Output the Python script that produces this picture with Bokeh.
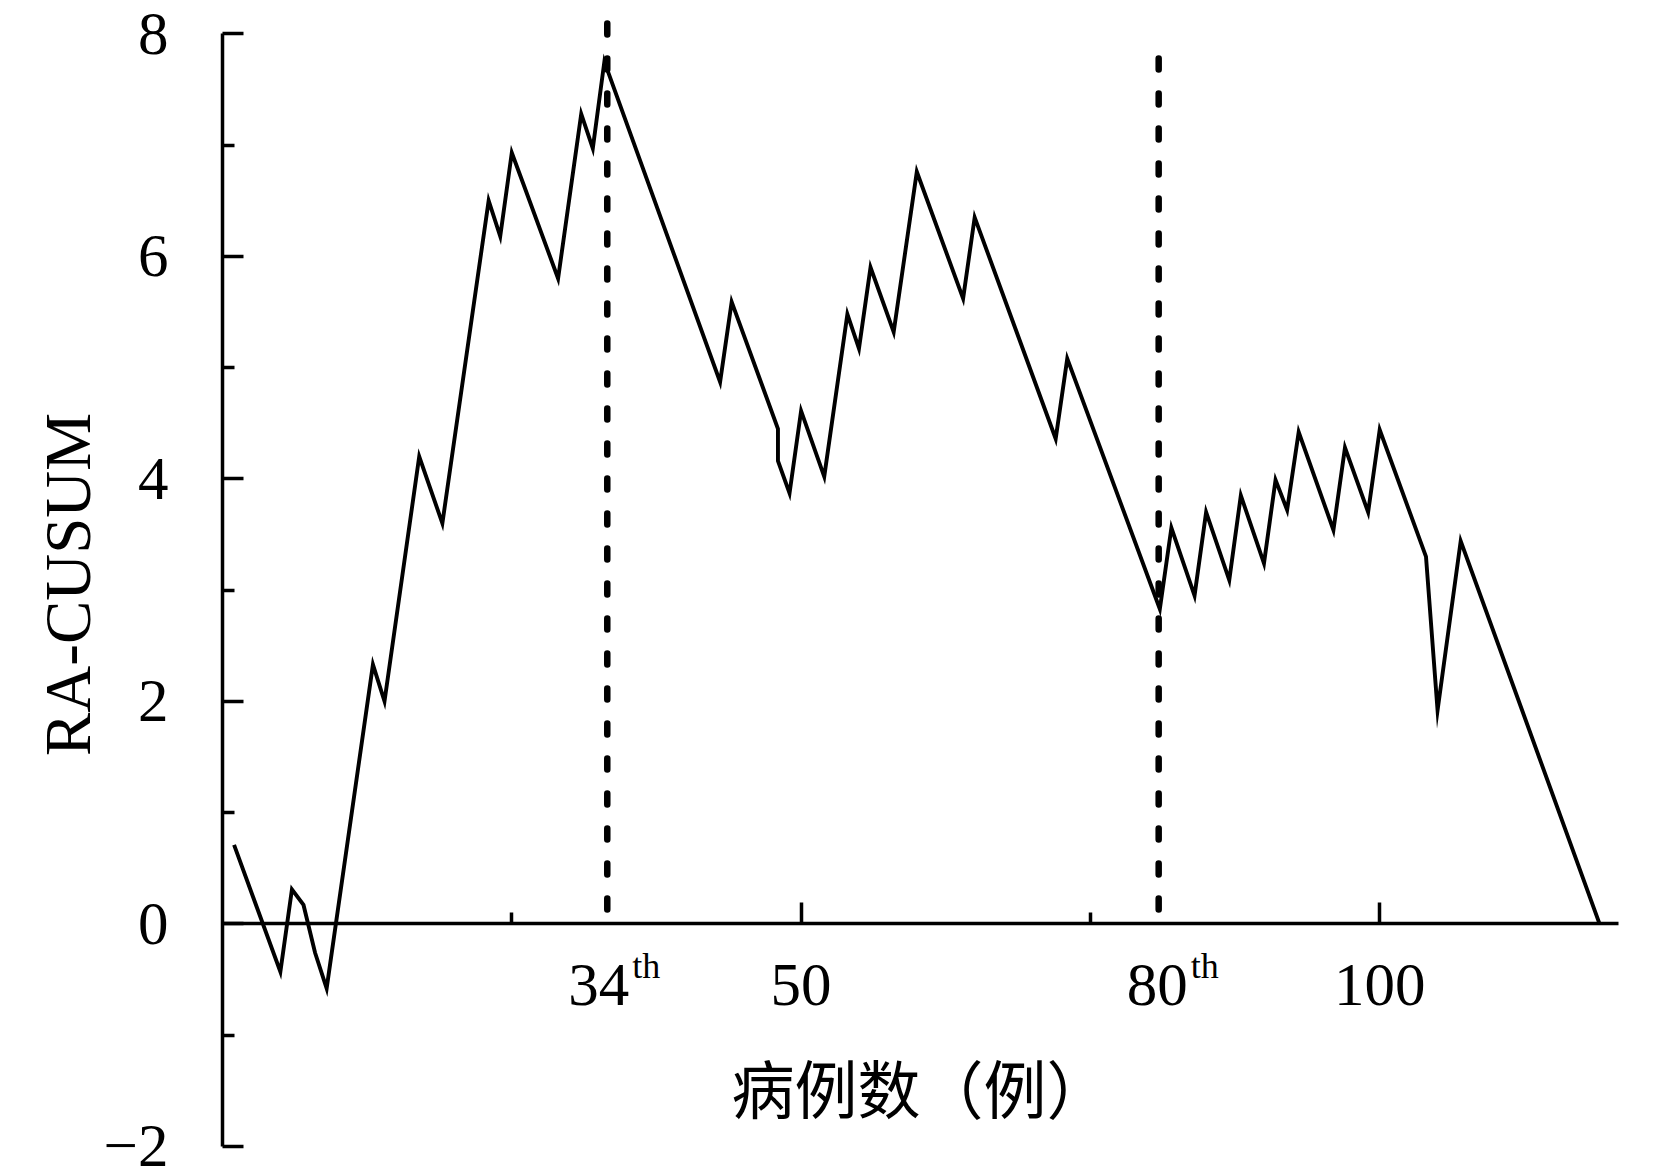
from bokeh.plotting import figure
from bokeh.models import Range1d, FixedTicker, ColumnDataSource
from bokeh.core.properties import value
from bokeh.embed import file_html
from bokeh.resources import INLINE

# ---- data ----
case_no = [1, 5, 6, 7, 8, 9, 13, 14, 17, 19, 23, 24, 25, 26, 29, 31, 32, 33,
           43, 44, 48, 48, 49, 50, 52, 54, 55, 56, 58, 60, 64, 65, 72, 73,
           81, 82, 84, 85, 87, 88, 90, 91, 92, 93, 96, 97, 99, 100, 104, 105,
           107, 119]
ra_cusum = [0.71, -0.43, 0.31, 0.17, -0.26, -0.58, 2.33, 2.00, 4.20, 3.60,
            6.50, 6.18, 6.93, 6.65, 5.80, 7.28, 6.97, 7.75,
            4.87, 5.59, 4.45, 4.16, 3.87, 4.61, 4.02, 5.48, 5.17, 5.90, 5.32,
            6.76, 5.62, 6.35, 4.36, 5.08,
            2.83, 3.56, 2.95, 3.70, 3.09, 3.85, 3.24, 3.99, 3.72, 4.42, 3.54,
            4.28, 3.70, 4.44, 3.30, 1.92, 3.44, 0.00]

cut_case = [33.25, 80.9]     # dashed reference lines
cut_top = [8.13, 7.90]
cut_bottom = [0.13, 0.13]
cut_num = ["34", "80"]
cut_sup = ["th", "th"]

x_major_ticks = [50, 100]
x_minor_ticks = [25, 75]
y_major_ticks = [-2, 0, 2, 4, 6, 8]
y_minor_ticks = [-1, 1, 3, 5, 7]

x_label = "病例数（例）"
y_label = "RA-CUSUM"

SERIF = "Liberation Serif"

p = figure(width=1654, height=1171,
           x_range=Range1d(0, 121.5), y_range=Range1d(-2.1, 8.2),
           output_backend="svg", toolbar_location=None,
           min_border_left=222, min_border_right=26,
           min_border_top=11, min_border_bottom=14)
p.outline_line_color = None
p.grid.visible = False
p.background_fill_color = "white"
p.border_fill_color = "white"

# curve
p.line(case_no, ra_cusum, line_color="black", line_width=3.9, line_join="miter")

# dashed markers
cut_src = ColumnDataSource(dict(x=cut_case, y0=cut_bottom, y1=cut_top))
p.segment(x0="x", y0="y0", x1="x", y1="y1", source=cut_src,
          line_color="black", line_width=6.5, line_dash="11 24", line_cap="round")

# "34th" / "80th" labels below the axis (number + superscript)
label_shift = [22, 29]
for i in range(len(cut_case)):
    src = ColumnDataSource(dict(x=[cut_case[i]], y=[0], num=[cut_num[i]], sup=[cut_sup[i]]))
    p.text(x="x", y="y", text="num", source=src, text_font=value(SERIF),
           text_font_size="61px", text_align="right", text_baseline="alphabetic",
           x_offset=label_shift[i], y_offset=61, text_color="black")
    p.text(x="x", y="y", text="sup", source=src, text_font=value(SERIF),
           text_font_size="36px", text_align="left", text_baseline="alphabetic",
           x_offset=label_shift[i] + 3, y_offset=42, text_color="black")

# x axis at y = 0
xa = p.xaxis[0]
xa.fixed_location = 0
xa.ticker = FixedTicker(ticks=x_major_ticks, minor_ticks=x_minor_ticks)
xa.bounds = (0, 120.6)
xa.axis_line_width = 3.5
xa.axis_line_color = "black"
xa.major_tick_line_width = 3.5
xa.minor_tick_line_width = 3.5
xa.major_tick_in = 21
xa.major_tick_out = 0
xa.minor_tick_in = 11
xa.minor_tick_out = 0
xa.major_label_text_font = SERIF
xa.major_label_text_font_size = "61px"
xa.major_label_text_color = "black"
xa.major_label_standoff = 41
xa.axis_label = x_label
xa.axis_label_text_font = "Noto Sans CJK SC"
xa.axis_label_text_font_style = "normal"
xa.axis_label_text_font_size = "63px"
xa.axis_label_text_color = "black"
xa.axis_label_standoff = 32

# y axis
ya = p.yaxis[0]
ya.ticker = FixedTicker(ticks=y_major_ticks, minor_ticks=y_minor_ticks)
ya.bounds = (-2, 8)
ya.axis_line_width = 3.5
ya.axis_line_color = "black"
ya.major_tick_line_width = 3.5
ya.minor_tick_line_width = 3.5
ya.major_tick_in = 21
ya.major_tick_out = 0
ya.minor_tick_in = 12
ya.minor_tick_out = 0
ya.major_label_text_font = SERIF
ya.major_label_text_font_size = "61px"
ya.major_label_text_color = "black"
ya.major_label_standoff = 54
ya.major_label_overrides = {-2: "\u22122"}
ya.axis_label = y_label
ya.axis_label_text_font = SERIF
ya.axis_label_text_font_style = "normal"
ya.axis_label_text_font_size = "65px"
ya.axis_label_text_color = "black"
ya.axis_label_standoff = -3

open("out.html", "w").write(file_html(p, INLINE))
